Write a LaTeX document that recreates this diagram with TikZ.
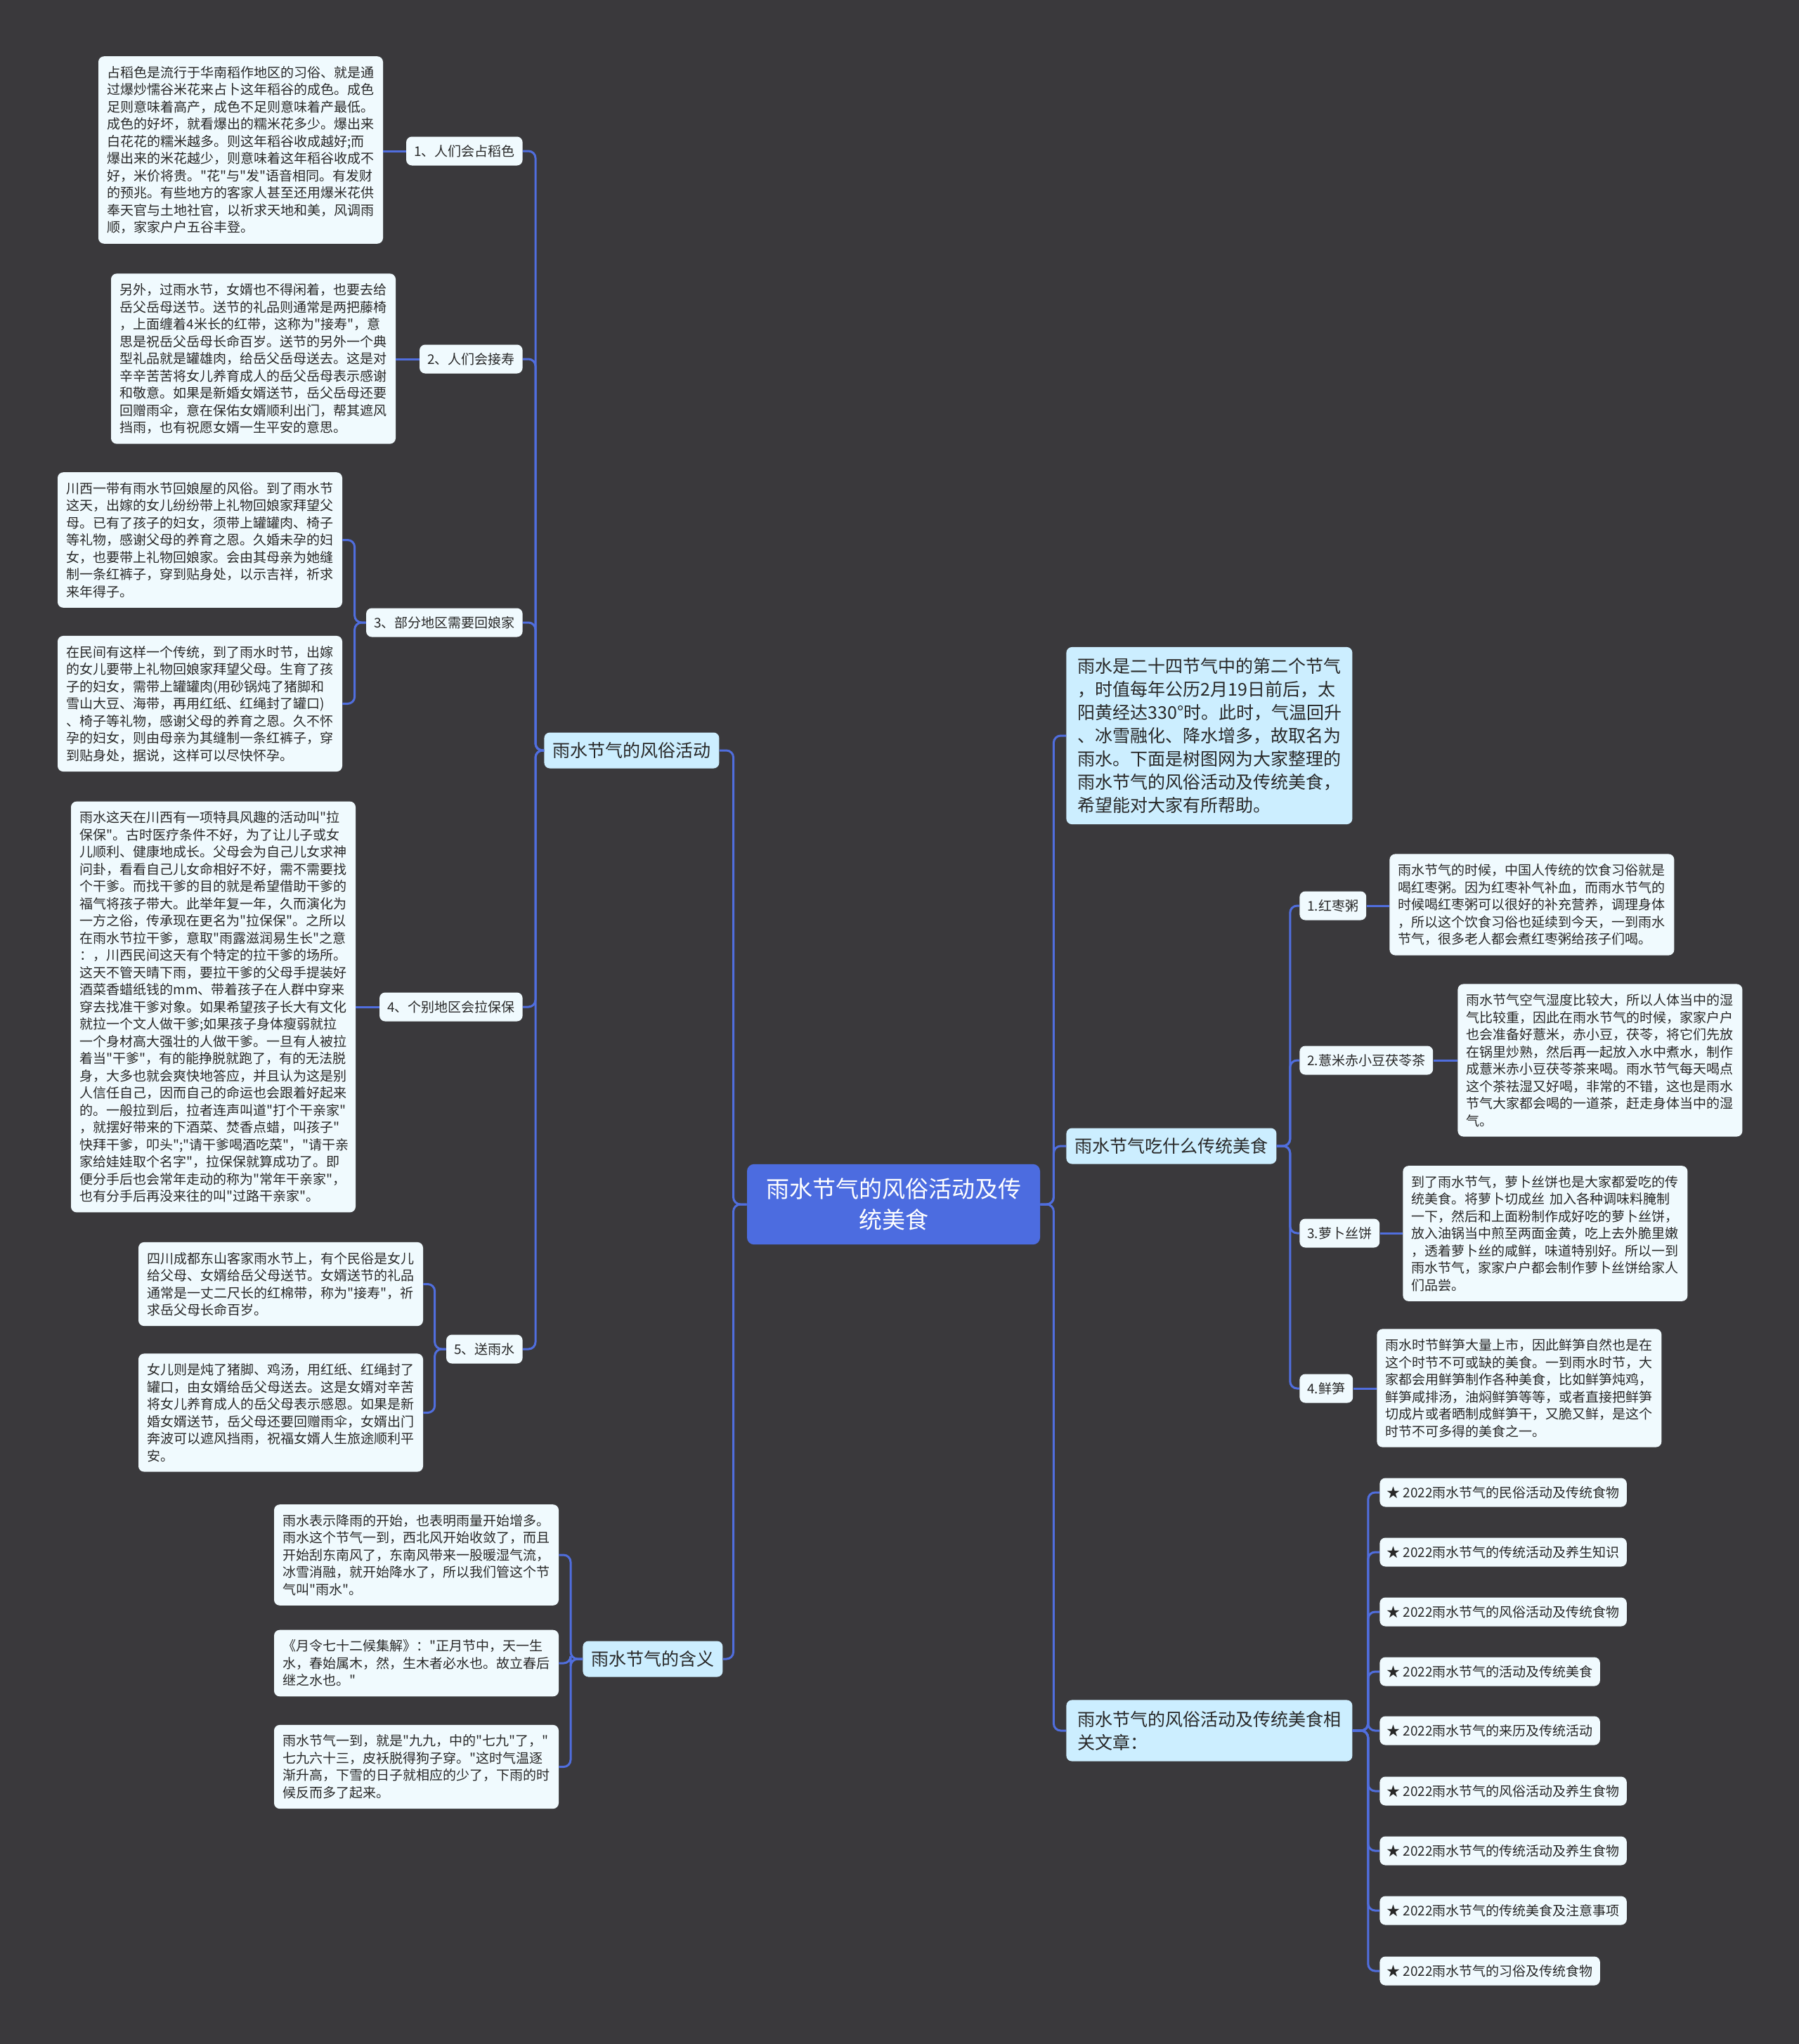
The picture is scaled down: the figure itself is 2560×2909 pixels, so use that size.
\documentclass[tikz,border=0pt]{standalone}
\usepackage{fontspec}
\setmainfont{Noto Sans CJK SC}[Ligatures=TeXOff]
\definecolor{bgc}{RGB}{58,57,60}
\definecolor{linec}{RGB}{80,110,222}
\definecolor{rootf}{RGB}{76,108,224}
\definecolor{branchf}{RGB}{204,238,255}
\definecolor{leaff}{RGB}{240,250,254}
\definecolor{textc}{RGB}{40,40,40}
\tikzset{
  conn/.style={draw=linec, line width=1.5pt, rounded corners=5pt},
  leafbox/.style={fill=leaff, rounded corners=4pt, text=textc, font=\fontsize{9.5}{12.25}\selectfont, text width=190pt, align=left, inner xsep=6.25pt, inner ysep=7pt},
  labbox/.style={fill=leaff, rounded corners=4pt, text=textc, font=\fontsize{9.5}{12}\selectfont, inner xsep=5.5pt, inner ysep=0pt, minimum height=20.5pt},
  itembox/.style={labbox, inner xsep=5pt},
  branchbox/.style={fill=branchf, rounded corners=4pt, text=textc, font=\fontsize{12.5}{16.5}\selectfont, inner xsep=6pt, inner ysep=0pt, minimum height=25.5pt},
  introbox/.style={fill=branchf, rounded corners=4pt, text=textc, font=\fontsize{12.5}{16.5}\selectfont, text width=187.5pt, align=left, inner xsep=8pt, inner ysep=7.75pt},
  rootbox/.style={fill=rootf, rounded corners=5pt, text=white, font=\fontsize{16.5}{22}\selectfont, align=center, inner xsep=13.5pt, inner ysep=10pt}
}
\begin{document}
\begin{tikzpicture}[x=0.5pt,y=-0.5pt]
\useasboundingbox (0,0) rectangle (2560,2909);
\fill[bgc] (0,0) rectangle (2560,2909);

% root
\node[rootbox] (root) at (1271.5,1714) {雨水节气的风俗活动及传\\统美食};

% left branch 1
\node[branchbox, anchor=west] (B1) at (774,1068) {雨水节气的风俗活动};
\node[labbox, anchor=east] (lab1) at (744,215) {1、人们会占稻色};
\node[labbox, anchor=east] (lab2) at (744,511) {2、人们会接寿};
\node[labbox, anchor=east] (lab3) at (744,886) {3、部分地区需要回娘家};
\node[labbox, anchor=east] (lab4) at (744,1433) {4、个别地区会拉保保};
\node[labbox, anchor=east] (lab5) at (744,1920) {5、送雨水};

\node[leafbox] (L1) at (342.5,213.5) {占稻色是流行于华南稻作地区的习俗、就是通\\过爆炒懦谷米花来占卜这年稻谷的成色。成色\\足则意味着高产，成色不足则意味着产最低。\\成色的好坏，就看爆出的糯米花多少。爆出来\\白花花的糯米越多。则这年稻谷收成越好;而\\爆出来的米花越少，则意味着这年稻谷收成不\\好，米价将贵。"花"与"发"语音相同。有发财\\的预兆。有些地方的客家人甚至还用爆米花供\\奉天官与土地社官，以祈求天地和美，风调雨\\顺，家家户户五谷丰登。};
\node[leafbox] (L2) at (360.5,510.5) {另外，过雨水节，女婿也不得闲着，也要去给\\岳父岳母送节。送节的礼品则通常是两把藤椅\\，上面缠着4米长的红带，这称为"接寿"，意\\思是祝岳父岳母长命百岁。送节的另外一个典\\型礼品就是罐雄肉，给岳父岳母送去。这是对\\辛辛苦苦将女儿养育成人的岳父岳母表示感谢\\和敬意。如果是新婚女婿送节，岳父岳母还要\\回赠雨伞，意在保佑女婿顺利出门，帮其遮风\\挡雨，也有祝愿女婿一生平安的意思。};
\node[leafbox] (L3a) at (284.5,768.5) {川西一带有雨水节回娘屋的风俗。到了雨水节\\这天，出嫁的女儿纷纷带上礼物回娘家拜望父\\母。已有了孩子的妇女，须带上罐罐肉、椅子\\等礼物，感谢父母的养育之恩。久婚未孕的妇\\女，也要带上礼物回娘家。会由其母亲为她缝\\制一条红裤子，穿到贴身处，以示吉祥，祈求\\来年得子。};
\node[leafbox] (L3b) at (284.5,1001.5) {在民间有这样一个传统，到了雨水时节，出嫁\\的女儿要带上礼物回娘家拜望父母。生育了孩\\子的妇女，需带上罐罐肉(用砂锅炖了猪脚和\\雪山大豆、海带，再用红纸、红绳封了罐口)\\、椅子等礼物，感谢父母的养育之恩。久不怀\\孕的妇女，则由母亲为其缝制一条红裤子，穿\\到贴身处，据说，这样可以尽快怀孕。};
\node[leafbox] (L4) at (303.5,1433) {雨水这天在川西有一项特具风趣的活动叫"拉\\保保"。古时医疗条件不好，为了让儿子或女\\儿顺利、健康地成长。父母会为自己儿女求神\\问卦，看看自己儿女命相好不好，需不需要找\\个干爹。而找干爹的目的就是希望借助干爹的\\福气将孩子带大。此举年复一年，久而演化为\\一方之俗，传承现在更名为"拉保保"。之所以\\在雨水节拉干爹，意取"雨露滋润易生长"之意\\：，川西民间这天有个特定的拉干爹的场所。\\这天不管天晴下雨，要拉干爹的父母手提装好\\酒菜香蜡纸钱的mm、带着孩子在人群中穿来\\穿去找准干爹对象。如果希望孩子长大有文化\\就拉一个文人做干爹;如果孩子身体瘦弱就拉\\一个身材高大强壮的人做干爹。一旦有人被拉\\着当"干爹"，有的能挣脱就跑了，有的无法脱\\身，大多也就会爽快地答应，并且认为这是别\\人信任自己，因而自己的命运也会跟着好起来\\的。一般拉到后，拉者连声叫道"打个干亲家"\\，就摆好带来的下酒菜、焚香点蜡，叫孩子"\\快拜干爹，叩头";"请干爹喝酒吃菜"，"请干亲\\家给娃娃取个名字"，拉保保就算成功了。即\\便分手后也会常年走动的称为"常年干亲家"，\\也有分手后再没来往的叫"过路干亲家"。};
\node[leafbox] (L5a) at (399.5,1827.5) {四川成都东山客家雨水节上，有个民俗是女儿\\给父母、女婿给岳父母送节。女婿送节的礼品\\通常是一丈二尺长的红棉带，称为"接寿"，祈\\求岳父母长命百岁。};
\node[leafbox] (L5b) at (399.5,2010.5) {女儿则是炖了猪脚、鸡汤，用红纸、红绳封了\\罐口，由女婿给岳父母送去。这是女婿对辛苦\\将女儿养育成人的岳父母表示感恩。如果是新\\婚女婿送节，岳父母还要回赠雨伞，女婿出门\\奔波可以遮风挡雨，祝福女婿人生旅途顺利平\\安。};

% left branch 2
\node[branchbox, anchor=west] (B2) at (829,2361) {雨水节气的含义};
\node[leafbox] (M1) at (592.5,2213) {雨水表示降雨的开始，也表明雨量开始增多。\\雨水这个节气一到，西北风开始收敛了，而且\\开始刮东南风了，东南风带来一股暖湿气流，\\冰雪消融，就开始降水了，所以我们管这个节\\气叫"雨水"。};
\node[leafbox] (M2) at (592.5,2367) {《月令七十二候集解》："正月节中，天一生\\水，春始属木，然，生木者必水也。故立春后\\继之水也。"};
\node[leafbox] (M3) at (592.5,2514.5) {雨水节气一到，就是"九九，中的"七九"了，"\\七九六十三，皮袄脱得狗子穿。"这时气温逐\\渐升高，下雪的日子就相应的少了，下雨的时\\候反而多了起来。};

% right side
\node[introbox, anchor=west] (intro) at (1517,1047) {雨水是二十四节气中的第二个节气\\，时值每年公历2月19日前后，太\\阳黄经达330°时。此时，气温回升\\、冰雪融化、降水增多，故取名为\\雨水。下面是树图网为大家整理的\\雨水节气的风俗活动及传统美食，\\希望能对大家有所帮助。};
\node[branchbox, anchor=west] (B3) at (1517,1631) {雨水节气吃什么传统美食};
\node[labbox, anchor=west] (F1) at (1849,1289) {1.红枣粥};
\node[labbox, anchor=west] (F2) at (1849,1509) {2.薏米赤小豆茯苓茶};
\node[labbox, anchor=west] (F3) at (1849,1755) {3.萝卜丝饼};
\node[labbox, anchor=west] (F4) at (1849,1976) {4.鲜笋};
\node[leafbox, anchor=west] (T1) at (1977,1287.5) {雨水节气的时候，中国人传统的饮食习俗就是\\喝红枣粥。因为红枣补气补血，而雨水节气的\\时候喝红枣粥可以很好的补充营养，调理身体\\，所以这个饮食习俗也延续到今天，一到雨水\\节气，很多老人都会煮红枣粥给孩子们喝。};
\node[leafbox, anchor=west] (T2) at (2074,1509) {雨水节气空气湿度比较大，所以人体当中的湿\\气比较重，因此在雨水节气的时候，家家户户\\也会准备好薏米，赤小豆，茯苓，将它们先放\\在锅里炒熟，然后再一起放入水中煮水，制作\\成薏米赤小豆茯苓茶来喝。雨水节气每天喝点\\这个茶祛湿又好喝，非常的不错，这也是雨水\\节气大家都会喝的一道茶，赶走身体当中的湿\\气。};
\node[leafbox, anchor=west] (T3) at (1996,1755.5) {到了雨水节气，萝卜丝饼也是大家都爱吃的传\\统美食。将萝卜切成丝 加入各种调味料腌制\\一下，然后和上面粉制作成好吃的萝卜丝饼，\\放入油锅当中煎至两面金黄，吃上去外脆里嫩\\，透着萝卜丝的咸鲜，味道特别好。所以一到\\雨水节气，家家户户都会制作萝卜丝饼给家人\\们品尝。};
\node[leafbox, anchor=west] (T4) at (1959,1975.5) {雨水时节鲜笋大量上市，因此鲜笋自然也是在\\这个时节不可或缺的美食。一到雨水时节，大\\家都会用鲜笋制作各种美食，比如鲜笋炖鸡，\\鲜笋咸排汤，油焖鲜笋等等，或者直接把鲜笋\\切成片或者晒制成鲜笋干，又脆又鲜，是这个\\时节不可多得的美食之一。};
\node[introbox, anchor=west] (B4) at (1517,2463) {雨水节气的风俗活动及传统美食相\\关文章：};

% connectors: root
\draw[conn] (root.west) -- ++(-19,0) |- (B1.east);
\draw[conn] (root.west) -- ++(-19,0) |- (B2.east);
\draw[conn] (root.east) -- ++(19,0) |- (intro.west);
\draw[conn] (root.east) -- ++(19,0) |- (B3.west);
\draw[conn] (root.east) -- ++(19,0) |- (B4.west);
% branch 1
\foreach \n in {lab1,lab2,lab3,lab4,lab5} {
  \draw[conn] (B1.west) -- ++(-12,0) |- (\n.east);
}
\draw[conn] (lab1.west) -- (lab1.west -| L1.east);
\draw[conn] (lab2.west) -- (lab2.west -| L2.east);
\draw[conn] (lab3.west) -- ++(-16,0) |- (L3a.east);
\draw[conn] (lab3.west) -- ++(-16,0) |- (L3b.east);
\draw[conn] (lab4.west) -- (lab4.west -| L4.east);
\draw[conn] (lab5.west) -- ++(-16,0) |- (L5a.east);
\draw[conn] (lab5.west) -- ++(-16,0) |- (L5b.east);
% branch 2
\foreach \n in {M1,M2,M3} {
  \draw[conn] (B2.west) -- ++(-17,0) |- (\n.east);
}
% food
\foreach \n/\t in {F1/T1,F2/T2,F3/T3,F4/T4} {
  \draw[conn] (B3.east) -- ++(19,0) |- (\n.west);
  \draw[conn] (\n.east) -- (\n.east -| \t.west);
}
% related list
\foreach \i/\yy/\t in {1/2124/民俗活动及传统食物,2/2209/传统活动及养生知识,3/2294/风俗活动及传统食物,4/2379/活动及传统美食,5/2463/来历及传统活动,6/2549/风俗活动及养生食物,7/2634/传统活动及养生食物,8/2719/传统美食及注意事项,9/2805/习俗及传统食物} {
  \node[itembox, anchor=west] (r\i) at (1963,\yy) {★ 2022雨水节气的\t};
  \draw[conn] (B4.east) -- ++(22,0) |- (r\i.west);
}
\end{tikzpicture}
\end{document}
